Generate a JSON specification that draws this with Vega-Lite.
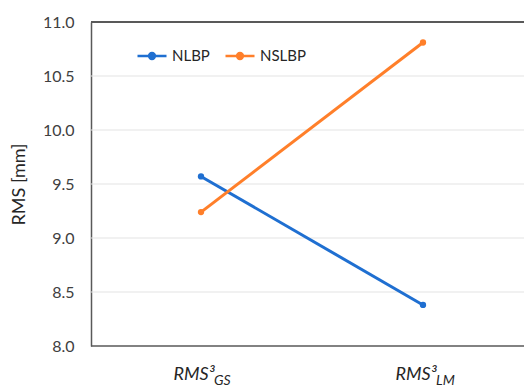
{
  "$schema": "https://vega.github.io/schema/vega-lite/v6.json",
  "autosize": {"type": "none"},
  "padding": {"left": 91, "top": 22, "right": 0, "bottom": 41},
  "width": 433,
  "height": 324,
  "background": "white",
  "config": {
    "view": {"stroke": null},
    "font": "Lato"
  },
  "layer": [
    {
      "data": {"values": [{"v": 8.5}, {"v": 9}, {"v": 9.5}, {"v": 10}, {"v": 10.5}]},
      "mark": {"type": "rule", "color": "#e3e3e3", "strokeWidth": 1.2},
      "encoding": {"y": {"field": "v", "type": "quantitative"}}
    },
    {
      "data": {"values": [
        {"cat": "RMS3_GS", "group": "NLBP", "rms": 9.57},
        {"cat": "RMS3_LM", "group": "NLBP", "rms": 8.38},
        {"cat": "RMS3_GS", "group": "NSLBP", "rms": 9.24},
        {"cat": "RMS3_LM", "group": "NSLBP", "rms": 10.81}
      ]},
      "mark": {"type": "line", "strokeWidth": 3, "point": {"size": 40, "filled": true}},
      "encoding": {
        "x": {
          "field": "cat", "type": "nominal",
          "scale": {"type": "point", "range": [110, 332], "padding": 0},
          "axis": {
            "title": null, "ticks": false, "grid": false,
            "domain": false,
            "labelExpr": "'RMS³'", "labelAngle": 0,
            "labelAlign": "left", "labelOffset": -28,
            "labelBaseline": "alphabetic", "labelPadding": 33,
            "labelFont": "Lato", "labelFontStyle": "italic",
            "labelFontSize": 18, "labelColor": "#262626"
          }
        },
        "y": {
          "field": "rms", "type": "quantitative",
          "scale": {"domain": [8, 11], "zero": false, "nice": false},
          "axis": {
            "title": "RMS [mm]", "titleFontSize": 18, "titleFont": "Lato",
            "titleFontWeight": "normal", "titleColor": "#262626", "titlePadding": 14,
            "values": [8, 8.5, 9, 9.5, 10, 10.5, 11], "format": ".1f",
            "ticks": false, "labelPadding": 17,
            "labelFontSize": 16, "labelColor": "#404040", "labelFont": "Lato",
            "domain": true, "domainColor": "#595959", "domainWidth": 1.5,
            "grid": false
          }
        },
        "color": {
          "field": "group", "type": "nominal",
          "scale": {"domain": ["NLBP", "NSLBP"], "range": ["#1f6fd1", "#ff7f2a"]},
          "legend": {
            "title": null, "orient": "none", "legendX": 45, "legendY": 18,
            "direction": "horizontal",
            "symbolType": "M-1,0L1,0M-0.2,0a0.2,0.2 0 1,0 0.4,0a0.2,0.2 0 1,0 -0.4,0",
            "symbolSize": 841, "symbolStrokeWidth": 2.5,
            "labelFontSize": 15, "labelColor": "#262626", "labelFont": "Lato",
            "labelOffset": 4, "columnPadding": 10,
            "encode": {"symbols": {"update": {"fill": {"scale": "color", "field": "value"}}}}
          }
        }
      }
    },
    {
      "data": {"values": [{"v": 11, "w": 2}, {"v": 8, "w": 1.5}]},
      "mark": {"type": "rule", "color": "#595959"},
      "encoding": {
        "y": {"field": "v", "type": "quantitative"},
        "strokeWidth": {"field": "w", "type": "quantitative", "scale": null}
      }
    },
    {
      "data": {"values": [
        {"cat": "RMS3_GS", "sub": "GS"},
        {"cat": "RMS3_LM", "sub": "LM"}
      ]},
      "mark": {"type": "text", "align": "left", "baseline": "alphabetic", "dx": 13, "dy": 39,
               "font": "Lato", "fontStyle": "italic", "fontSize": 14, "color": "#262626"},
      "encoding": {
        "x": {"field": "cat", "type": "nominal"},
        "y": {"datum": 8, "type": "quantitative"},
        "text": {"field": "sub"}
      }
    }
  ]
}
